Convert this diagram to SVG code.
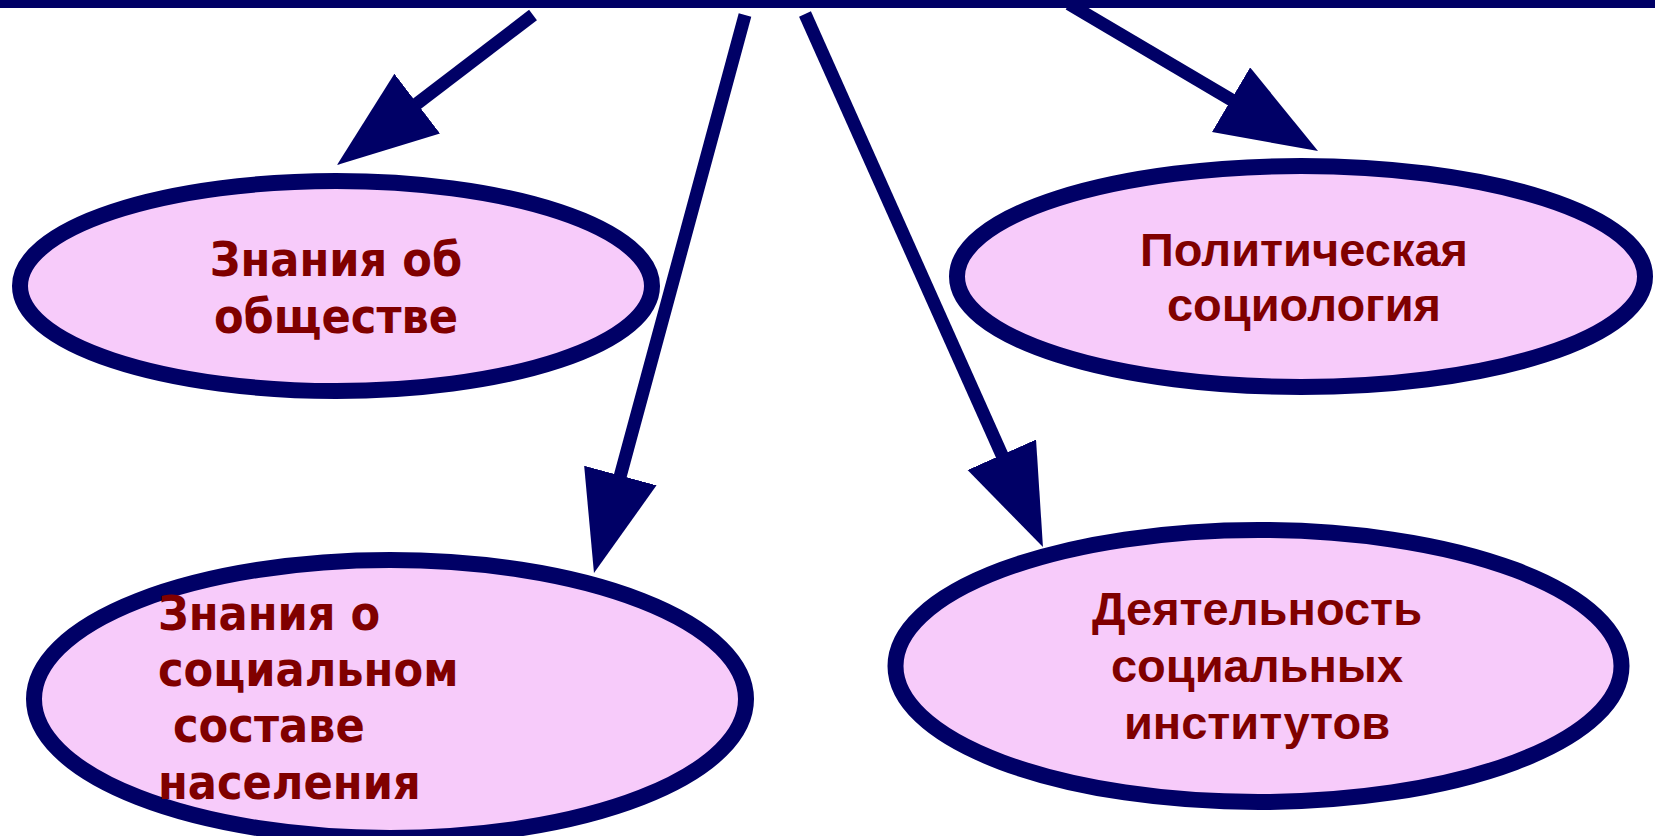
<svg xmlns="http://www.w3.org/2000/svg" width="1655" height="836" viewBox="0 0 1655 836">
  <style>
    .node ellipse { fill: #F7CBFA; stroke: #000066; stroke-width: 16; }
    .lbl { fill: #800000; font-weight: bold; }
    .v { font-family: 'DejaVu Sans Condensed', 'DejaVu Sans', sans-serif; font-stretch: condensed; font-size: 48px; }
    .a { font-family: 'Liberation Sans', Arial, sans-serif; font-size: 47px; }
    .edge { stroke: #000066; stroke-width: 13; fill: none; marker-end: url(#head); }
  </style>
  <defs>
    <marker id="head" markerUnits="userSpaceOnUse" markerWidth="102" markerHeight="76" refX="1" refY="37.5" orient="auto" viewBox="0 0 102 76">
      <path d="M0,0 L101,37.5 L0,75 Z" fill="#000066"/>
    </marker>
  </defs>
  <rect x="0" y="0" width="1655" height="8" fill="#000066"/>

  <g id="node-obshchestvo" class="node">
    <ellipse cx="336" cy="286" rx="316" ry="105"/>
    <text class="lbl v" text-anchor="middle" x="336" y="276">Знания об</text>
    <text class="lbl v" text-anchor="middle" x="336" y="333">обществе</text>
  </g>

  <g id="node-politsotsiologiya" class="node">
    <ellipse cx="1301" cy="276.5" rx="344" ry="110.5"/>
    <text class="lbl a" text-anchor="middle" x="1304" y="266">Политическая</text>
    <text class="lbl a" text-anchor="middle" x="1304" y="321">социология</text>
  </g>

  <g id="node-sostav" class="node">
    <ellipse cx="390" cy="699" rx="356" ry="139"/>
    <text class="lbl v" x="158" y="630">Знания о</text>
    <text class="lbl v" x="158" y="686">социальном</text>
    <text class="lbl v" x="158" y="742" xml:space="preserve"> составе</text>
    <text class="lbl v" x="158" y="799">населения</text>
  </g>

  <g id="node-instituty" class="node">
    <ellipse cx="1258.5" cy="666" rx="363" ry="136"/>
    <text class="lbl a" text-anchor="middle" x="1257" y="625">Деятельность</text>
    <text class="lbl a" text-anchor="middle" x="1257" y="682">социальных</text>
    <text class="lbl a" text-anchor="middle" x="1257" y="739">институтов</text>
  </g>

  <g id="connectors">
    <line class="edge" x1="533" y1="15" x2="416.4" y2="104.2"/>
    <line class="edge" x1="745" y1="15" x2="620.1" y2="476.5"/>
    <line class="edge" x1="805" y1="14" x2="1002.2" y2="455.7"/>
    <line class="edge" x1="1069" y1="4" x2="1231.9" y2="100.2"/>
  </g>
</svg>
